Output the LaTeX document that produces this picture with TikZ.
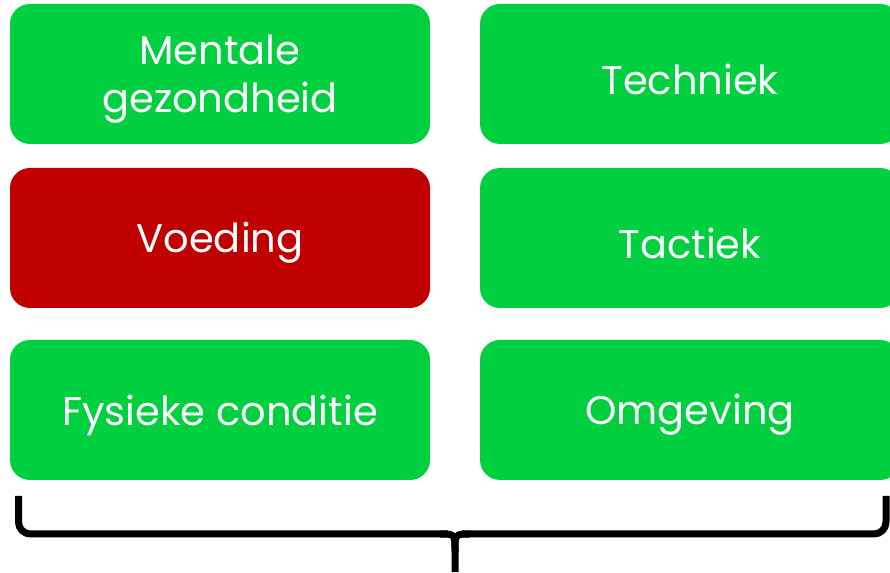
\documentclass[tikz,border=0pt]{standalone}
\usepackage{fontspec}
\setmainfont{Poppins}
\definecolor{boxgreen}{HTML}{00D040}
\definecolor{boxred}{HTML}{C00000}
\begin{document}
\begin{tikzpicture}[x=1pt,y=1pt,
  tile/.style={fill=boxgreen, draw=none, rounded corners=20pt, minimum width=420pt, minimum height=140pt, inner sep=0pt},
  redtile/.style={tile, fill=boxred},
  tiletext/.style={text=white, font=\fontsize{40}{48}\selectfont, align=center, inner sep=0pt},
  bracket/.style={line width=7pt, rounded corners=12pt}]
\useasboundingbox (0,0) rectangle (890,572);
\node[tile] (mg) at (220,498) {};
\node[tile] (te) at (690,498) {};
\node[redtile] (vo) at (220,334) {};
\node[tile] (ta) at (690,334) {};
\node[tile] (fc) at (220,162) {};
\node[tile] (om) at (690,162) {};
\node[tiletext] (mgt) at ([yshift=-5pt]mg.center) {Mentale\\gezondheid};
\node[tiletext] (tet) at ([yshift=-5pt]te.center) {Techniek};
\node[tiletext] (vot) at ([yshift=-5pt]vo.center) {Voeding};
\node[tiletext] (tat) at ([yshift=-5pt]ta.center) {Tactiek};
\node[tiletext] (fct) at ([yshift=-5pt]fc.center) {Fysieke conditie};
\node[tiletext] (omt) at ([yshift=-5pt]om.center) {Omgeving};
\coordinate (bl) at (18.5,76);
\coordinate (br) at (886,76);
\coordinate (bm) at (455,0);
\draw[bracket] (bl) -- (18.5,38) -- (448,38);
\draw[bracket] (br) -- (886,38) -- (462,38);
\draw[line width=7pt] (440,38) .. controls (455,38) .. (455,20) -- (bm);
\draw[line width=7pt] (470,38) .. controls (455,38) .. (455,20);
\end{tikzpicture}
\end{document}
